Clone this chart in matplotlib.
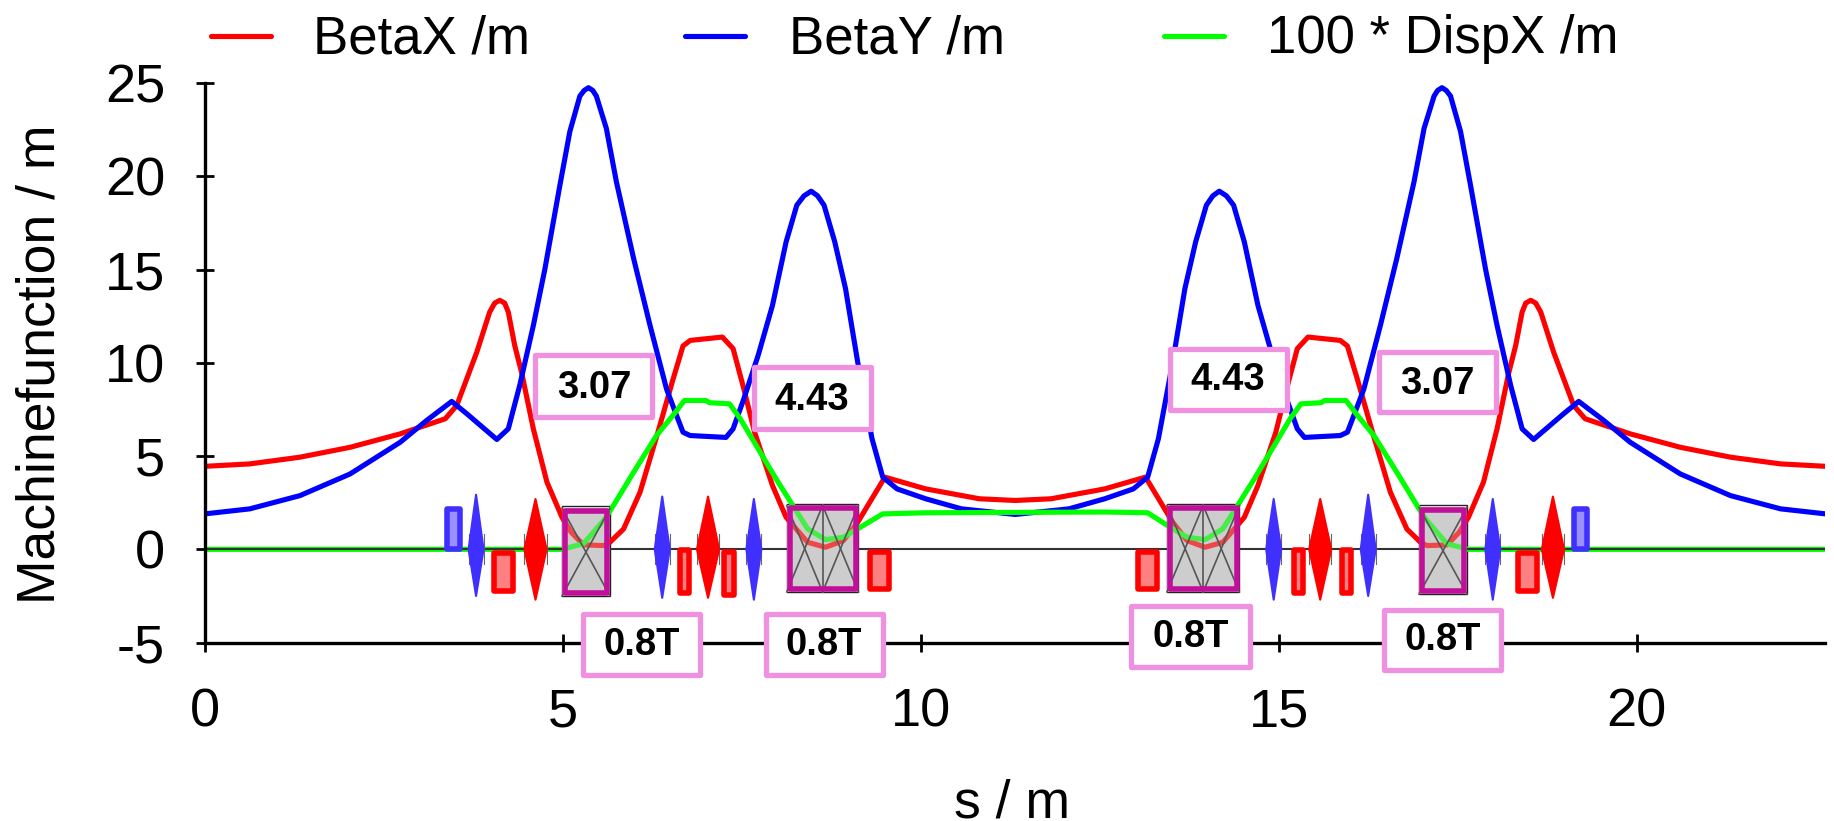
import matplotlib
matplotlib.use('Agg')
import matplotlib.pyplot as plt
from matplotlib.patches import Rectangle, Polygon

W, H = 1834, 821

s_x = [0, 0.63, 1.33, 2.03, 2.73, 3.36, 3.52, 3.8, 3.98, 4.05, 4.12, 4.19, 4.24, 4.33, 4.43, 4.59, 4.78, 4.99, 5.12, 5.29, 5.57, 5.66, 5.85, 6.08, 6.33, 6.53, 6.68, 6.78, 7.23, 7.38, 7.53, 7.68, 7.93, 8.12, 8.22, 8.42, 8.67, 8.92, 9.12, 9.5, 10.07, 10.82, 11.32,
       11.82, 12.57, 13.14, 13.52, 13.72, 13.97, 14.22, 14.42, 14.52, 14.71, 14.96, 15.11, 15.26, 15.41, 15.86, 15.96, 16.11, 16.31, 16.56, 16.79, 16.98, 17.07, 17.35, 17.52, 17.65, 17.86, 18.05, 18.21, 18.31, 18.40, 18.45, 18.52, 18.59, 18.66, 18.84, 19.12, 19.28, 19.91, 20.61, 21.31, 22.01, 22.64]
beta_x = [4.45, 4.58, 4.94, 5.47, 6.19, 7.0, 7.71, 10.57, 12.72, 13.2, 13.35, 13.2, 12.72, 10.93, 9.41, 6.46, 3.6, 1.72, 0.91, 0.24, 0.2, 0.38, 1.09, 3.06, 6.28, 8.97, 10.9, 11.2, 11.38, 10.76, 8.6, 6.28, 3.42, 1.72, 1.27, 0.38, 0.11, 0.47, 1.45, 3.87, 3.24, 2.71, 2.62,
          2.71, 3.24, 3.87, 1.45, 0.47, 0.11, 0.38, 1.27, 1.72, 3.42, 6.28, 8.6, 10.76, 11.38, 11.2, 10.9, 8.97, 6.28, 3.06, 1.09, 0.38, 0.2, 0.24, 0.91, 1.72, 3.6, 6.46, 9.41, 10.93, 12.72, 13.2, 13.35, 13.2, 12.72, 10.57, 7.71, 7.0, 6.19, 5.47, 4.94, 4.58, 4.45]

s_y = [0, 0.63, 1.33, 2.03, 2.73, 3.1, 3.45, 3.66, 4.08, 4.24, 4.4, 4.59, 4.75, 4.96, 5.1, 5.24, 5.3, 5.36, 5.42, 5.47, 5.61, 5.75, 5.99, 6.22, 6.45, 6.59, 6.68, 6.78, 7.28, 7.38, 7.53, 7.73, 7.93, 8.12, 8.27, 8.37, 8.47, 8.56, 8.65, 8.8, 8.95, 9.12, 9.32, 9.47, 9.67, 10.07, 10.57, 11.32,
       12.07, 12.57, 12.97, 13.17, 13.32, 13.52, 13.69, 13.84, 13.99, 14.08, 14.17, 14.27, 14.37, 14.52, 14.71, 14.91, 15.11, 15.26, 15.36, 15.86, 15.96, 16.05, 16.19, 16.42, 16.65, 16.89, 17.03, 17.17, 17.22, 17.28, 17.34, 17.4, 17.54, 17.68, 17.89, 18.05, 18.24, 18.4, 18.56, 18.98, 19.19, 19.54, 19.91, 20.61, 21.31, 22.01, 22.64]
beta_y = [1.9, 2.17, 2.88, 4.04, 5.74, 6.91, 7.93, 7.27, 5.89, 6.46, 8.79, 12.0, 15.0, 19.5, 22.4, 24.3, 24.6, 24.75, 24.6, 24.3, 22.56, 19.7, 15.6, 12.0, 8.6, 7.18, 6.28, 6.1, 6.0, 6.46, 8.07, 10.4, 13.08, 16.48, 18.45, 18.95, 19.2, 18.95, 18.45, 16.48, 13.98, 10.04, 5.93, 3.87, 3.24, 2.71, 2.17, 1.87,
          2.17, 2.71, 3.24, 3.87, 5.93, 10.04, 13.98, 16.48, 18.45, 18.95, 19.2, 18.95, 18.45, 16.48, 13.08, 10.4, 8.07, 6.46, 6.0, 6.1, 6.28, 7.18, 8.6, 12.0, 15.6, 19.7, 22.56, 24.3, 24.6, 24.75, 24.6, 24.3, 22.4, 19.5, 15.0, 12.0, 8.79, 6.46, 5.89, 7.27, 7.93, 6.91, 5.74, 4.04, 2.88, 2.17, 1.9]

s_d = [0, 4.99, 5.29, 5.57, 5.68, 5.99, 6.31, 6.54, 6.7, 7.0, 7.05, 7.33, 7.48, 7.73, 7.98, 8.2, 8.42, 8.67, 8.92, 9.12, 9.47, 10.07,
       12.57, 13.17, 13.52, 13.72, 13.97, 14.22, 14.44, 14.66, 14.91, 15.16, 15.31, 15.59, 15.64, 15.94, 16.1, 16.33, 16.65, 16.96, 17.07, 17.35, 17.65, 22.64]
disp = [0, 0, 0.3, 1.54, 2.17, 4.13, 6.1, 7.18, 7.98, 7.98, 7.86, 7.8, 7.0, 5.39, 3.78, 2.44, 1.1, 0.52, 0.65, 1.1, 1.9, 1.96,
        2.0, 1.96, 1.1, 0.65, 0.52, 1.1, 2.44, 3.78, 5.39, 7.0, 7.8, 7.86, 7.98, 7.98, 7.18, 6.1, 4.13, 2.17, 1.54, 0.3, 0, 0]

# lattice elements: start, end, top, bottom
dipoles = [(4.99, 5.66, 2.2, -2.5), (8.13, 9.13, 2.35, -2.28), (13.44, 14.45, 2.35, -2.28), (16.96, 17.63, 2.25, -2.4)]
red_rects = [(4.00, 4.35, -0.07, -2.4), (6.6, 6.8, 0.14, -2.5), (7.22, 7.43, 0, -2.6), (9.25, 9.6, 0, -2.28),
             (12.99, 13.34, 0, -2.28), (15.17, 15.38, 0.14, -2.5), (15.84, 16.05, 0.14, -2.5), (18.3, 18.65, -0.07, -2.4)]
blue_rects = [(3.34, 3.61, 2.3, -0.13), (19.08, 19.35, 2.3, -0.13)]
# quadrupoles: centre, top, bottom
blue_quads = [(3.79, 2.93, -2.5), (6.39, 2.83, -2.6), (7.67, 2.7, -2.7), (14.93, 2.7, -2.7), (16.25, 2.93, -2.5), (17.99, 2.7, -2.7)]
red_quads = [(4.62, 2.7, -2.7), (7.03, 2.83, -2.6), (15.58, 2.7, -2.7), (18.83, 2.83, -2.6)]

baseline_gaps = [(0, 4.99), (5.66, 8.13), (9.13, 13.44), (14.45, 16.96), (17.63, 22.63)]

field_labels = ['3.07', '4.43', '4.43', '3.07', '0.8T', '0.8T', '0.8T', '0.8T']
label_boxes = [(533, 655, 353, 420), (751, 873, 365, 432), (1167, 1289, 346, 412), (1376, 1498, 350, 415),
               (581, 703, 611, 677), (763, 885, 611, 677), (1129, 1252, 603, 669), (1382, 1504, 607, 672)]

legend_names = ['BetaX /m', 'BetaY /m', '100 * DispX /m']
legend_colors = ['#ff0000', '#0000ff', '#00ff00']
legend_line_x = [(211, 271), (685, 745), (1164, 1224)]
legend_text_x = [313, 789, 1267]

plt.rcParams['font.family'] = ['Liberation Sans', 'DejaVu Sans']
plt.rcParams['axes.unicode_minus'] = False

fig = plt.figure(figsize=(W / 100, H / 100), dpi=100)
ax = fig.add_axes([204.7 / W, (H - 642.6) / H, 1620.3 / W, 559.6 / H])

LW = 3.7
QBLUE = '#4030ff'
MAGENTA = '#c0109a'
GREY = '#cdcdcd'

for x0, x1, top, bot in dipoles:
    ax.add_patch(Rectangle((x0, bot), x1 - x0, top - bot + 0.1, fc='none', ec='#222222', lw=1, zorder=0.8))
    ax.add_patch(Rectangle((x0, bot), x1 - x0, top - bot, fc=GREY, ec='none', zorder=1))

ax.plot(s_x, beta_x, color='#ff0000', lw=LW, zorder=2)
ax.plot(s_y, beta_y, color='#0000ff', lw=LW, zorder=2.1)
ax.plot(s_d, disp, color='#00ff00', lw=LW, zorder=2.2)

for x0, x1 in baseline_gaps:
    ax.plot([x0, x1], [0, 0], color='#333333', lw=1.5, zorder=2.5, solid_capstyle='butt')

# dipoles: faded curves inside, X pattern of the coil
for x0, x1, top, bot in dipoles:
    ax.add_patch(Rectangle((x0, bot), x1 - x0, top - bot, fc=GREY, ec='none', alpha=0.35, zorder=3))
    xm = (x0 + x1) / 2
    if x1 - x0 > 0.8:
        parts = [(x0, xm), (xm, x1)]
        ax.plot([xm, xm], [bot, top], color='#555555', lw=1.2, zorder=3.2)
    else:
        parts = [(x0, x1)]
    for a, b in parts:
        ax.plot([a, b], [bot, top], color='#555555', lw=1.2, zorder=3.2)
        ax.plot([a, b], [top, bot], color='#555555', lw=1.2, zorder=3.2)
    dx, dy = 2.8 / 71.6, 2.8 / 18.65
    ax.add_patch(Rectangle((x0 + dx, bot + dy), x1 - x0 - 2 * dx, top - bot - 2 * dy, fc='none', ec=MAGENTA, lw=4, joinstyle='round', zorder=4))

for rects, edge, face in [(red_rects, '#ff0000', '#ff8080'), (blue_rects, QBLUE, '#9a90ff')]:
    for x0, x1, top, bot in rects:
        dx, dy = 2.8 / 71.6, 2.8 / 18.65
        ax.add_patch(Rectangle((x0 + dx, bot + dy), x1 - x0 - 2 * dx, top - bot - 2 * dy, fc=face, ec=edge, lw=4, joinstyle='round', zorder=4))

for quads, color, hw in [(blue_quads, QBLUE, 0.105), (red_quads, '#ff0000', 0.155)]:
    for c, top, bot in quads:
        # short dark sides peeking out behind the quadrupole
        for side in [c - hw, c + hw]:
            ax.plot([side, side], [-0.8, 0.8], color='#666666', lw=0.8, zorder=3.5)
        ax.add_patch(Polygon([(c, top), (c + hw, 0), (c, bot), (c - hw, 0)], closed=True, fc=color, ec=color, lw=1.5, joinstyle='round', zorder=4))

ax.set_xlim(0, 22.63)
ax.set_ylim(-5, 25)
ax.set_xticks([0, 5, 10, 15, 20])
ax.set_yticks([-5, 0, 5, 10, 15, 20, 25])
ax.tick_params(axis='both', direction='inout', length=13, width=2, labelsize=39)
ax.tick_params(axis='x', pad=26)
ax.tick_params(axis='y', pad=22)
for name in ['top', 'right']:
    ax.spines[name].set_visible(False)
for name in ['left', 'bottom']:
    ax.spines[name].set_linewidth(2.4)

fig.text(41 / W, 1 - 364 / H, 'Machinefunction / m', rotation=90, ha='center', va='center', fontsize=38.5)
fig.text(1012 / W, 1 - 803 / H, 's / m', ha='center', va='center', fontsize=38.5)

# legend is laid out by hand like in the original program output
for name, color, (x0, x1), tx in zip(legend_names, legend_colors, legend_line_x, legend_text_x):
    fig.add_artist(plt.Line2D([x0 / W, x1 / W], [1 - 36 / H, 1 - 36 / H], color=color, lw=LW, solid_capstyle='round', transform=fig.transFigure))
    fig.text(tx / W, 1 - 53 / H, name, ha='left', va='baseline', fontsize=38)

for label, (x0, x1, y0, y1) in zip(field_labels, label_boxes):
    fig.add_artist(Rectangle((x0 / W + 2.5 / W, 1 - y1 / H + 2.5 / H), (x1 - x0 - 5) / W, (y1 - y0 - 5) / H, fc='white', ec='#f090e0',
                             lw=3.8, joinstyle='round', transform=fig.transFigure, zorder=6))
    fig.text((x0 + x1) / 2 / W, 1 - ((y0 + y1) / 2 + 1) / H, label, ha='center', va='center', fontsize=27.5, fontweight='bold', zorder=7)

fig.savefig('out.png', dpi=100)
